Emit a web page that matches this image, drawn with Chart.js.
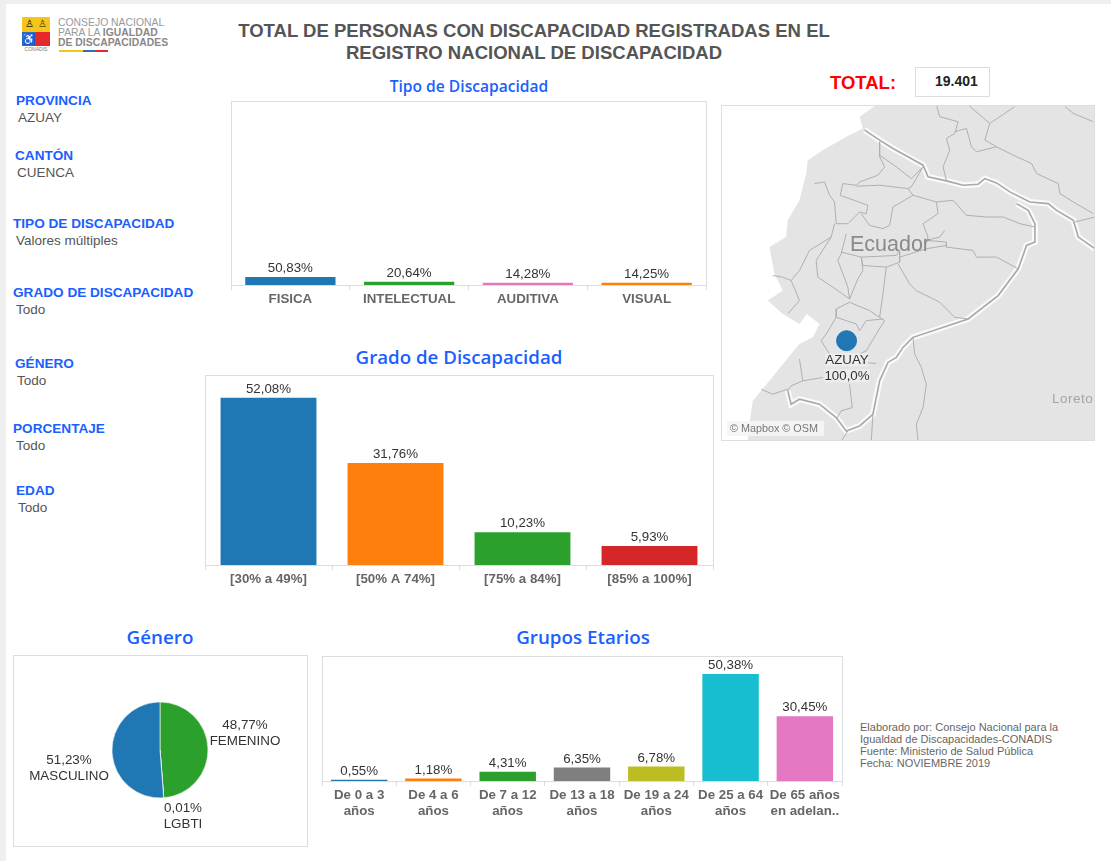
<!DOCTYPE html>
<html lang="es"><head><meta charset="utf-8">
<script src="https://cdn.jsdelivr.net/npm/chart.js@4/dist/chart.umd.min.js"></script>
<style>
html,body{margin:0;padding:0;background:#fff;width:1111px;height:861px;overflow:hidden;font-family:"Liberation Sans",Arial,sans-serif}
.t{position:absolute;white-space:nowrap;line-height:1;transform:translateY(-50%)}
.c{position:absolute;white-space:nowrap;line-height:1;transform:translate(-50%,-50%);text-align:center}
.h{color:#1a60ff;font-family:"Open Sans",sans-serif;font-weight:600}
.k{color:#1a60ff;font-weight:700;font-size:13.6px}
.v{color:#555;font-size:13.5px}
.box{position:absolute;box-sizing:border-box;border:1px solid #ddd}
canvas{position:absolute}
.r{position:absolute}
</style></head><body>
<div class="r" style="left:0;top:0;width:6px;height:861px;background:#efefef"></div>
<div class="r" style="left:0;top:0;width:1111px;height:4px;background:#efefef"></div>

<!-- logo -->
<div class="r" style="left:22px;top:17px;width:28px;height:15px;background:#f5c518"></div>
<div class="r" style="left:22px;top:32px;width:14px;height:14px;background:#2f6fc0"></div>
<div class="r" style="left:36px;top:32px;width:14px;height:14px;background:#e5282a"></div>
<div class="c" style="left:29px;top:24px;font-size:10px;color:#222">&#9817;</div>
<div class="c" style="left:42px;top:24px;font-size:10px;color:#5a4a10">&#9817;</div>
<div class="c" style="left:29px;top:39px;font-size:11px;color:#fff">&#9855;</div>
<div class="c" style="left:36px;top:49px;font-size:5px;color:#777">CONADIS</div>
<div class="t" style="left:58px;top:23px;font-size:10.4px;color:#999">CONSEJO NACIONAL</div>
<div class="t" style="left:58px;top:33px;font-size:10.4px;color:#999">PARA LA <b style="color:#888">IGUALDAD</b></div>
<div class="t" style="left:58px;top:43px;font-size:10.4px;color:#888;font-weight:700">DE DISCAPACIDADES</div>
<div class="r" style="left:59px;top:50px;width:24px;height:2px;background:#f5c518"></div>
<div class="r" style="left:83px;top:50px;width:12px;height:2px;background:#2f6fc0"></div>
<div class="r" style="left:95px;top:50px;width:13px;height:2px;background:#e5282a"></div>

<div class="c" style="left:534px;top:31px;font-size:18.55px;font-weight:700;color:#555">TOTAL DE PERSONAS CON DISCAPACIDAD REGISTRADAS EN EL</div>
<div class="c" style="left:534px;top:53px;font-size:18.55px;font-weight:700;color:#555">REGISTRO NACIONAL DE DISCAPACIDAD</div>

<div class="c h" style="left:469px;top:87px;font-size:15.6px">Tipo de Discapacidad</div>
<div class="c h" style="left:459px;top:357px;font-size:18.7px">Grado de Discapacidad</div>
<div class="c h" style="left:160px;top:637px;font-size:18.8px">Género</div>
<div class="c h" style="left:583px;top:637px;font-size:18.8px">Grupos Etarios</div>

<div id="filters"></div>

<div class="c" style="left:863px;top:83px;font-size:18.5px;font-weight:700;color:#f00">TOTAL:</div>
<div class="box" style="left:915px;top:67px;width:75px;height:30px"></div>
<div class="t" style="left:935px;top:81px;font-size:14px;font-weight:700;color:#222">19.401</div>

<div class="box" style="left:721px;top:105px;width:374px;height:336px"></div>
<canvas id="map" style="left:722px;top:106px" width="372" height="334"></canvas>
<div class="c" style="left:890px;top:245px;font-size:21.5px;color:#8a8a8a">Ecuador</div>
<div class="r" style="left:1052px;top:391px;width:42px;height:16px;overflow:hidden;font-size:13.5px;line-height:16px;color:#a5a5a5;letter-spacing:.5px">Loreto</div>
<div class="c" style="left:847px;top:360px;font-size:13.3px;color:#333;background:rgba(240,240,240,.75)">AZUAY</div>
<div class="c" style="left:847px;top:376px;font-size:13.3px;color:#333;background:rgba(240,240,240,.75)">100,0%</div>
<div class="r" style="left:727px;top:421px;width:97px;height:15px;background:rgba(245,245,245,.9);font-size:10.8px;line-height:15px;color:#777;text-indent:3px">© Mapbox © OSM</div>

<canvas id="tipo"></canvas>
<canvas id="grado"></canvas>
<canvas id="grupos"></canvas>

<div class="box" style="left:13px;top:655px;width:295px;height:192px"></div>
<canvas id="genero" style="left:14px;top:655px" width="292" height="190"></canvas>
<div id="pieLabels"></div>

<div class="t" style="left:860px;top:727px;font-size:11px;color:#666">Elaborado por: Consejo Nacional para la</div>
<div class="t" style="left:860px;top:739px;font-size:11px;color:#666">Igualdad de Discapacidades-CONADIS</div>
<div class="t" style="left:860px;top:751px;font-size:11px;color:#666">Fuente: Ministerio de Salud Pública</div>
<div class="t" style="left:860px;top:763px;font-size:11px;color:#666">Fecha: NOVIEMBRE 2019</div>

<script>
// ---- data ----
const tipoLabels = ['FISICA','INTELECTUAL','AUDITIVA','VISUAL'];
const tipoValues = [50.83,20.64,14.28,14.25];
const tipoColors = ['#1f77b4','#2ca02c','#e377c2','#ff7f0e'];

const gradoLabels = ['[30% a 49%]','[50% A 74%]','[75% a 84%]','[85% a 100%]'];
const gradoValues = [52.08,31.76,10.23,5.93];
const gradoColors = ['#1f77b4','#ff7f0e','#2ca02c','#d62728'];

const gruposLabels = [['De 0 a 3','años'],['De 4 a 6','años'],['De 7 a 12','años'],['De 13 a 18','años'],['De 19 a 24','años'],['De 25 a 64','años'],['De 65 años','en adelan..']];
const gruposValues = [0.55,1.18,4.31,6.35,6.78,50.38,30.45];
const gruposColors = ['#1f77b4','#ff7f0e','#2ca02c','#7f7f7f','#bcbd22','#17becf','#e377c2'];

const generoLabels = ['FEMENINO','LGBTI','MASCULINO'];
const generoValues = [48.77,0.01,51.23];
const generoColors = ['#2ca02c','#d9d9d9','#1f77b4'];

const filterNames = ['PROVINCIA','CANTÓN','TIPO DE DISCAPACIDAD','GRADO DE DISCAPACIDAD','GÉNERO','PORCENTAJE','EDAD'];
const filterValues = ['AZUAY','CUENCA','Valores múltiples','Todo','Todo','Todo','Todo'];

const mapPlace = [{x:381,y:840}];
const landOutline = [[470,135],[420,170],[430,205],[380,230],[310,270],[265,300],[260,340],[240,420],[205,480],[200,530],[150,560],[165,640],[190,690],[145,720],[190,760],[240,790],[262,760],[300,790],[280,830],[240,850],[215,880],[150,960],[125,990],[100,1020],[90,1090],[85,1140],[1125,1140],[1125,135]];
const countryBorders = [
 [[435,210],[480,240],[520,265],[565,290],[610,315],[625,350],[680,362],[730,375],[775,372],[795,355],[830,368],[870,395],[930,425],[985,430],[1010,450],[1060,480],[1075,530],[1125,565]],
 [[890,430],[925,450],[945,490],[945,545],[920,555],[895,625],[835,705],[745,775],[580,830],[550,860],[530,890],[505,905],[480,960],[460,1060],[420,1095],[380,1110],[350,1070],[300,1030],[240,1015],[215,1030],[205,990]]
];
const provinceBorders = [
 [[480,245],[480,290],[495,320],[475,345],[420,365],[410,375],[370,370],[362,405],[445,435],[440,460],[420,455],[385,490],[350,490],[345,425],[330,405],[315,365],[285,370]],
 [[480,285],[530,320],[575,355],[610,320]],
 [[610,320],[575,380],[565,385],[480,375],[410,378]],
 [[565,385],[580,405],[520,440],[510,495],[490,505],[450,495],[425,460]],
 [[580,405],[650,425],[700,420],[740,465],[800,470],[850,470],[900,490],[945,500]],
 [[650,425],[655,460],[610,490],[625,530],[620,540]],
 [[675,510],[660,530],[620,540],[680,545],[680,560],[760,570],[770,590],[830,590],[895,625]],
 [[345,490],[335,530],[290,600],[295,650],[340,680],[390,715]],
 [[335,530],[270,570],[240,630],[215,660],[240,720],[205,760]],
 [[215,660],[190,650],[160,645]],
 [[380,520],[365,580],[355,600],[385,680],[390,715],[415,655],[430,630],[425,590],[365,575]],
 [[540,570],[540,605],[500,620],[430,615],[425,590],[530,585],[540,570]],
 [[540,590],[620,565],[680,555]],
 [[535,610],[570,670],[590,690],[660,725],[705,770],[745,775]],
 [[500,620],[490,700],[480,770],[495,780],[470,820],[440,870],[420,880]],
 [[390,725],[350,745],[350,770],[320,820],[305,840],[330,880]],
 [[350,770],[410,790],[420,810],[440,780],[490,775]],
 [[390,725],[450,750],[480,770]],
 [[470,908],[430,905]],
 [[240,895],[250,960],[215,975],[205,990]],
 [[250,960],[310,950]],
 [[125,985],[160,1000],[205,985]],
 [[390,970],[398,1040],[365,1050],[350,1075]],
 [[580,830],[585,880],[605,920],[620,970],[610,1040],[590,1090],[595,1140]],
 [[460,1060],[455,1140]],
 [[385,1110],[365,1140]],
 [[650,135],[660,170],[715,185],[705,220],[680,235],[690,270],[670,320],[680,360]],
 [[705,215],[740,205],[755,260],[770,275],[830,260],[880,285],[935,310],[950,340],[1015,370],[1020,400],[1060,425],[1120,460]],
 [[745,135],[810,190],[885,140]],
 [[810,190],[795,240],[830,260]],
 [[1035,140],[1060,160],[1120,185]],
 [[1065,485],[1125,470]]
];

// ---- html text built from arrays ----
const filterLook = [[16,101,18,118],[15,156,17,173],[13,224,16,241],[13,293,16,310],[15,364,17,381],[13,429,16,446],[16,491,18,508]];
document.getElementById('filters').innerHTML = filterNames.map((n,i)=>{
  const p = filterLook[i];
  return `<div class="t k" style="left:${p[0]}px;top:${p[1]}px">${n}</div><div class="t v" style="left:${p[2]}px;top:${p[3]}px">${filterValues[i]}</div>`;
}).join('');
const pct = v => v.toFixed(2).replace('.',',') + '%';
const pieLook = [[245,725,245,741],[183,808,183,824],[69,760,69,776]];
document.getElementById('pieLabels').innerHTML = generoLabels.map((n,i)=>{
  const p = pieLook[i];
  return `<div class="c" style="left:${p[0]}px;top:${p[1]}px;font-size:13.4px;color:#333">${pct(generoValues[i])}</div><div class="c" style="left:${p[2]}px;top:${p[3]}px;font-size:13.4px;color:#333">${n}</div>`;
}).join('');

// ---- charts ----
Chart.defaults.animation = false;
Chart.defaults.font.family = '"Liberation Sans",Arial,sans-serif';
Chart.defaults.plugins.legend.display = false;
Chart.defaults.plugins.tooltip.enabled = false;

const valueLabels = {
  id:'valueLabels',
  afterDatasetsDraw(chart){
    const {ctx} = chart, ds = chart.data.datasets[0], meta = chart.getDatasetMeta(0);
    ctx.save();
    ctx.font = '13.3px "Liberation Sans",Arial,sans-serif';
    ctx.fillStyle = '#333'; ctx.textAlign='center'; ctx.textBaseline='middle';
    meta.data.forEach((el,i)=>ctx.fillText(pct(ds.data[i]), el.x, el.y-8.5));
    ctx.restore();
  }
};
const plotFrame = {
  id:'plotFrame',
  beforeDraw(chart){
    const {ctx,chartArea:a} = chart;
    ctx.save(); ctx.strokeStyle='#ddd'; ctx.lineWidth=1;
    ctx.strokeRect(a.left+.5,a.top+.5,a.right-a.left,a.bottom-a.top);
    ctx.restore();
  }
};
function barChart(id, box, axisH, labels, values, colors, yMax, barPct, lineH){
  const pad = 2;
  const cv = document.getElementById(id);
  cv.style.left = (box.l-pad)+'px'; cv.style.top = (box.t-pad)+'px';
  cv.width = box.r-box.l+2*pad; cv.height = box.b-box.t+axisH+pad;
  new Chart(cv,{
    type:'bar',
    data:{labels,datasets:[{data:values,backgroundColor:colors,barPercentage:barPct,categoryPercentage:1}]},
    options:{
      responsive:false,
      layout:{padding:{left:pad,right:pad,top:pad,bottom:0}},
      scales:{
        y:{display:false,min:0,max:yMax},
        x:{
          afterFit(s){s.height=axisH;},
          border:{color:'#ddd'},
          grid:{drawOnChartArea:false,drawTicks:true,tickLength:5,color:'#ddd'},
          ticks:{color:'#666',padding:1,maxRotation:0,autoSkip:false,font:{size:13.3,weight:'bold',lineHeight:lineH}}
        }
      }
    },
    plugins:[plotFrame,valueLabels]
  });
}
barChart('tipo',{l:231,r:706,t:101,b:285},22,tipoLabels,tipoValues,tipoColors,1169,0.76,1.2);
barChart('grado',{l:205,r:713,t:375,b:565},24,gradoLabels,gradoValues,gradoColors,59.2,0.755,1.2);
barChart('grupos',{l:322,r:842,t:656,b:781},42,gruposLabels,gruposValues,gruposColors,58.85,0.76,1.22);

new Chart(document.getElementById('genero'),{
  type:'pie',
  data:{labels:generoLabels,datasets:[{data:generoValues,backgroundColor:generoColors,borderColor:'#fff',borderWidth:0.6,radius:48}]},
  options:{responsive:false}
});

const toXY = line => line.map(p=>({x:p[0],y:p[1]}));
const mapSets = [
  {data:mapPlace,showLine:false,pointRadius:10,pointHoverRadius:10,backgroundColor:'#1f77b4',borderColor:'#1f77b4',order:0},
  ...countryBorders.map(l=>({data:toXY(l),showLine:true,pointRadius:0,borderColor:'#a8a8a8',borderWidth:1.6,order:1})),
  ...countryBorders.map(l=>({data:toXY(l),showLine:true,pointRadius:0,borderColor:'rgba(255,255,255,.8)',borderWidth:6,order:3})),
  ...provinceBorders.map(l=>({data:toXY(l),showLine:true,pointRadius:0,borderColor:'#b0b0b0',borderWidth:1,order:2})),
  {data:toXY(landOutline.concat([landOutline[0]])),showLine:true,pointRadius:0,borderWidth:0,borderColor:'#e4e4e4',backgroundColor:'#e4e4e4',fill:'shape',order:4}
];
new Chart(document.getElementById('map'),{
  type:'scatter',
  data:{datasets:mapSets},
  options:{
    responsive:false,
    layout:{padding:0,autoPadding:false},
    plugins:{filler:{propagate:false}},
    scales:{
      x:{display:false,min:8,max:1122},
      y:{display:false,min:138,max:1137,reverse:true}
    }
  }
});
</script>
</body></html>
